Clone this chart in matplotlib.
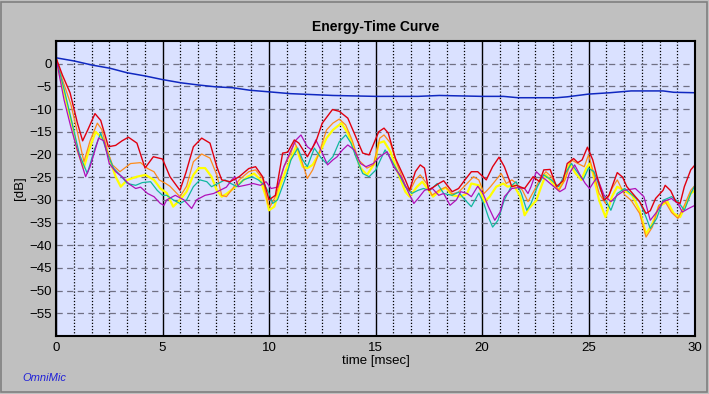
import matplotlib
matplotlib.use("Agg")
import matplotlib.pyplot as plt
from matplotlib.ticker import MultipleLocator, FixedLocator
from matplotlib.patches import Rectangle

plt.rcParams['font.family'] = ['Liberation Sans', 'DejaVu Sans']

title = "Energy-Time Curve"
xlabel = "time [msec]"
ylabel = "[dB]"
brand = "OmniMic"
x_ticks = [0, 5, 10, 15, 20, 25, 30]
y_ticks = [0, -5, -10, -15, -20, -25, -30, -35, -40, -45, -50, -55]

# (time ms, dB) pairs
blue = [(0,1.3),(0.85,0.6),(1.69,-0.3),(2.53,-1.0),(3.34,-2.0),(4.18,-2.7),(5.0,-3.5),
        (5.85,-4.2),(6.7,-4.7),(7.5,-5.1),(8.3,-5.3),(9.1,-5.85),(10.0,-6.2),(11,-6.6),
        (12,-6.8),(13,-7.0),(14,-7.1),(15,-7.2),(17,-7.2),(18,-7.0),(20,-7.2),(21,-7.2),
        (21.7,-7.5),(23.5,-7.5),(24,-7.3),(25,-6.7),(26,-6.4),(27,-6.0),(28.5,-6.0),
        (29,-6.3),(30,-6.4)]

red = [(0,1.3),(0.3,-2.5),(0.66,-6.4),(1.0,-13),(1.25,-17),(1.5,-14.5),(1.83,-11),(2.1,-12.5),
       (2.46,-18.3),(2.8,-18),(3.1,-17),(3.4,-16.2),(3.8,-17.5),(4.18,-23),(4.57,-20.5),(5.0,-21),
       (5.35,-24.9),(5.82,-27.9),(6.1,-24),(6.45,-18.3),(6.84,-16.4),(7.23,-17.5),(7.55,-22.7),
       (7.78,-25.6),(8.17,-26),(8.6,-24.9),(9.05,-23.1),(9.37,-22.7),(9.7,-24.9),(10.0,-30),
       (10.3,-29),(10.64,-19.7),(10.88,-19.5),(11.19,-16.8),(11.4,-17.5),(11.8,-20.5),(12.2,-17.2),
       (12.5,-13.1),(12.98,-10.1),(13.3,-10.5),(13.7,-12),(14.0,-15.3),(14.4,-19.7),(14.7,-20.1),
       (15.15,-15),(15.4,-14.2),(15.6,-15.3),(15.93,-20.8),(16.4,-25.6),(16.6,-27.9),(16.87,-23.8),
       (17.1,-22.3),(17.3,-23),(17.5,-27.9),(17.97,-26.4),(18.2,-25.8),(18.6,-28.2),(18.9,-27.5),
       (19.2,-25.6),(19.5,-23.8),(19.8,-23.8),(20.2,-25.6),(20.5,-22.7),(20.8,-20.6),(21.05,-22.7),
       (21.4,-27.1),(21.6,-26.8),(22.0,-27.5),(22.4,-24.9),(22.7,-26),(22.9,-23.4),(23.2,-23.3),
       (23.5,-27.1),(23.8,-25.8),(24.0,-22),(24.3,-20.9),(24.5,-21.8),(24.7,-21.2),(24.95,-18.4),
       (25.2,-21.2),(25.4,-24.9),(25.73,-30.1),(25.96,-29),(26.35,-24),(26.6,-25),(26.8,-27.1),
       (27.2,-29.3),(27.4,-30.4),(27.7,-33),(27.9,-32.4),(28.15,-29.7),(28.5,-27.9),(28.6,-26.8),
       (28.86,-28),(29.1,-30.4),(29.3,-30.8),(29.5,-27.1),(29.8,-23.4),(30.0,-22.3)]

orange = [(0,1.3),(0.3,-3.5),(0.7,-9),(1.0,-15),(1.31,-21.6),(1.6,-17),(1.94,-13.1),(2.15,-14.5),
          (2.4,-19),(2.65,-22.3),(3.0,-23.8),(3.5,-22),(3.97,-21.8),(4.3,-23.1),(4.6,-23.8),
          (4.84,-25.6),(5.15,-26.4),(5.35,-27),(5.82,-29.3),(6.13,-27),(6.45,-21.6),(6.84,-19.9),
          (7.23,-20.8),(7.55,-24.5),(7.78,-29),(8.0,-29.3),(8.3,-27.5),(8.6,-25.6),(9.05,-23.8),
          (9.37,-23.4),(9.7,-25.3),(9.95,-30.8),(10.05,-31.5),(10.33,-29),(10.7,-22.7),(11.03,-19.7),
          (11.19,-17.2),(11.4,-19.4),(11.8,-25.3),(12.05,-23.4),(12.4,-19),(12.7,-14.6),(13.0,-13.1),
          (13.3,-12.2),(13.6,-13.5),(13.9,-16.8),(14.2,-21.2),(14.6,-23),(14.9,-22.3),(15.05,-19.4),
          (15.2,-16.4),(15.4,-15.7),(15.7,-17.5),(16.0,-22),(16.4,-26.8),(16.6,-28.2),(16.87,-25.6),
          (17.1,-24.5),(17.4,-26.4),(17.65,-29),(17.97,-27.9),(18.3,-27.2),(18.6,-28.7),(18.9,-28.3),
          (19.3,-26.4),(19.6,-24.9),(19.85,-25.6),(20.1,-28.6),(20.4,-27.1),(20.9,-24.2),(21.14,-26.4),
          (21.4,-25.6),(21.6,-26.3),(21.9,-27.9),(22.16,-30.4),(22.5,-27.5),(22.7,-25.6),(23.0,-23.8),
          (23.25,-24.9),(23.6,-27.9),(23.9,-25.6),(24.2,-21.2),(24.5,-22),(24.8,-22.7),(25.0,-20.1),
          (25.2,-23.4),(25.5,-28.6),(25.8,-30.8),(26.1,-27.5),(26.35,-25.6),(26.7,-28.9),(27.0,-30.1),
          (27.4,-33),(27.7,-38.2),(28.0,-36),(28.3,-31.2),(28.6,-30.4),(28.9,-32.8),(29.2,-34.1),
          (29.5,-31.2),(29.8,-27.9),(30.0,-26.8)]

yellow = [(0,1.0),(0.42,-7.2),(0.74,-13),(1.0,-19),(1.3,-23),(1.55,-19),(1.86,-15),(2.25,-16.8),
          (2.5,-20.8),(2.8,-24.9),(3.04,-27.1),(3.35,-25.6),(3.8,-24.9),(4.2,-24.5),(4.6,-25.6),
          (4.9,-27.5),(5.2,-28.5),(5.5,-31.5),(5.82,-30),(6.13,-28.2),(6.45,-24.5),(6.7,-23),
          (7.0,-23),(7.3,-24.9),(7.55,-27.9),(7.78,-29.3),(8.0,-28.7),(8.3,-27.6),(8.6,-26.4),
          (9.0,-24.9),(9.3,-24.2),(9.6,-25.6),(9.9,-30),(10.0,-32.3),(10.25,-31.5),(10.56,-26.4),
          (10.8,-23.4),(11.27,-18.3),(11.58,-22.7),(11.8,-23),(12.05,-22.3),(12.4,-19.4),
          (12.7,-16.4),(13.0,-14.6),(13.4,-13.1),(13.7,-15.3),(14.0,-19),(14.3,-23),(14.6,-24.5),
          (14.95,-22),(15.15,-17.5),(15.4,-17.1),(15.7,-19.4),(16.0,-23.4),(16.4,-28.2),(16.6,-29.3),
          (16.95,-27.1),(17.2,-26),(17.5,-27.9),(17.7,-29.3),(18.05,-27.9),(18.3,-27.3),(18.6,-29),
          (19.0,-29.3),(19.3,-28.6),(19.5,-26.4),(19.85,-26.8),(20.1,-30.5),(20.36,-29.3),
          (20.67,-27.1),(21.0,-26.4),(21.2,-27.1),(21.5,-26.8),(21.8,-29.3),(22.0,-33.4),(22.2,-31.9),
          (22.55,-30.1),(22.8,-26.8),(23.0,-24.5),(23.3,-26.2),(23.6,-27.9),(23.9,-25),(24.1,-22),
          (24.4,-24.2),(24.66,-25.6),(24.9,-23),(25.05,-22),(25.2,-24),(25.5,-30.1),(25.8,-33.8),
          (26.1,-29.3),(26.35,-27.1),(26.7,-28),(27.05,-29),(27.4,-32.3),(27.7,-37.5),(28.0,-35.3),
          (28.3,-31.5),(28.7,-30.4),(29.0,-33),(29.3,-33.8),(29.5,-31.8),(29.8,-28.6),(30.0,-27.9)]

teal = [(0,1.2),(0.4,-6),(0.8,-14),(1.1,-20),(1.47,-24.2),(1.8,-19),(2.1,-15.3),(2.4,-19.7),
        (2.7,-23),(3.0,-24.5),(3.35,-26.4),(3.74,-26.8),(4.05,-26.2),(4.44,-26),(4.75,-27.9),
        (5.0,-29),(5.2,-29),(5.5,-30),(5.82,-30.8),(6.13,-30),(6.45,-27.1),(6.76,-25.6),(7.08,-26),
        (7.3,-27.1),(7.6,-26.4),(7.94,-25.6),(8.17,-26.3),(8.5,-27.1),(8.8,-25.6),(9.2,-24.9),
        (9.5,-25.6),(9.8,-26.8),(10.0,-28.5),(10.17,-30.8),(10.4,-30),(10.8,-24.9),(11.03,-21.2),
        (11.35,-18.6),(11.58,-21.2),(11.8,-22.7),(12.13,-18.6),(12.45,-20.8),(12.7,-22),(13.0,-20.5),
        (13.3,-17.2),(13.6,-15.7),(13.85,-17.5),(14.1,-20.8),(14.4,-24.2),(14.7,-24.9),(15.0,-23.5),
        (15.15,-22),(15.45,-19),(15.7,-20.8),(16.0,-23.4),(16.4,-27.1),(16.7,-28.6),(17.0,-27.9),
        (17.25,-27.5),(17.55,-27.9),(17.9,-26.4),(18.2,-28.6),(18.6,-29),(18.9,-28.3),(19.2,-30),
        (19.5,-31.5),(19.85,-28.5),(20.1,-31),(20.3,-33.8),(20.5,-36),(20.75,-34.5),(21.05,-30),
        (21.4,-26.8),(21.6,-26),(21.85,-28.6),(22.1,-32.3),(22.3,-30.8),(22.6,-27.1),(22.9,-24.5),
        (23.25,-25.6),(23.6,-27.1),(23.9,-24.2),(24.2,-22),(24.4,-23.4),(24.75,-25.6),(25.0,-23),
        (25.26,-23.8),(25.57,-27.9),(26.05,-32.3),(26.35,-28.6),(26.7,-27.5),(27.05,-28.9),
        (27.4,-30.4),(27.7,-33.8),(27.9,-36.3),(28.2,-34.1),(28.5,-30.1),(28.9,-29.3),(29.2,-30.4),
        (29.5,-32.3),(29.8,-28.6),(30.0,-26.8)]

magenta = [(0,1.2),(0.38,-8),(0.7,-14),(1.0,-19),(1.39,-24.9),(1.6,-22.7),(2.0,-16.4),(2.25,-17),
           (2.5,-22),(2.8,-23.8),(3.1,-24.9),(3.4,-26.4),(3.74,-27.5),(3.97,-27.2),(4.3,-28.6),
           (4.6,-29.3),(4.9,-30.8),(5.07,-31.2),(5.2,-30),(5.6,-29),(6.0,-30),(6.37,-31.9),(6.6,-30),
           (7.0,-29),(7.4,-28.6),(7.7,-27.9),(8.0,-27.2),(8.25,-25.6),(8.4,-24.9),(8.56,-27.1),
           (8.87,-26.8),(9.25,-26.4),(9.6,-26.8),(9.86,-26),(10.1,-27.5),(10.4,-27.2),(10.7,-22.7),
           (11.0,-19.4),(11.27,-16.8),(11.5,-15.7),(11.8,-18.3),(12.0,-19),(12.2,-16.8),(12.5,-19.7),
           (12.75,-22.3),(13.0,-21.2),(13.2,-20.5),(13.45,-19),(13.7,-17.9),(14.0,-19),(14.3,-22),
           (14.55,-22.7),(14.9,-22),(15.2,-20.5),(15.55,-19.4),(15.85,-22.7),(16.2,-24.9),(16.5,-27.9),
           (16.8,-30.8),(17.0,-29.7),(17.3,-27.9),(17.65,-27.4),(17.97,-29),(18.2,-28.6),(18.5,-31.2),
           (18.8,-30),(19.0,-28.2),(19.3,-28.6),(19.5,-29.3),(19.8,-27),(20.05,-28.6),(20.3,-31.5),
           (20.6,-34.5),(20.85,-32.7),(21.05,-29.3),(21.4,-27.5),(21.7,-27.3),(22.0,-27.5),
           (22.16,-28.6),(22.3,-27.1),(22.55,-23.8),(22.8,-24.9),(23.0,-25.6),(23.3,-26.8),
           (23.65,-28.2),(23.9,-27.5),(24.1,-24.2),(24.35,-22.3),(24.6,-24.5),(24.85,-26.4),
           (25.05,-27.5),(25.4,-25),(25.73,-29),(26.05,-30.4),(26.35,-29),(26.7,-27.9),(27.2,-27.5),
           (27.6,-29.3),(27.9,-34.5),(28.2,-32.7),(28.5,-30.4),(28.9,-29.7),(29.2,-30.8),(29.4,-32.7),
           (29.7,-31.9),(30.0,-31.2)]

series = [
    (yellow, "#FFFF00", 1.6),
    (orange, "#FF8C1A", 0.9),
    (teal, "#10B8A0", 0.9),
    (magenta, "#B010B8", 0.9),
    (red, "#E00010", 1.0),
    (blue, "#1028C0", 1.1),
]

fig = plt.figure(figsize=(7.09, 3.94), dpi=100)
fig.patch.set_facecolor("#C0C0C0")
fig.patches.append(Rectangle((0.002, 0.004), 0.995, 0.992, transform=fig.transFigure,
                             fill=False, edgecolor="#808080", linewidth=1.2))

ax = fig.add_axes([56/709, (394-336)/394, (695-56)/709, (336-41)/394])
ax.set_facecolor("#DAE1FF")
ax.set_xlim(0, 30)
ax.set_ylim(-60, 5)

ax.xaxis.set_major_locator(FixedLocator(x_ticks))
ax.xaxis.set_minor_locator(MultipleLocator(5/6))
ax.yaxis.set_major_locator(FixedLocator(y_ticks))
ax.grid(which="major", axis="x", color="black", linestyle="-", linewidth=1.0)
ax.grid(which="minor", axis="x", color="black", linestyle=(0, (1, 1.5)), linewidth=0.9)
ax.grid(which="major", axis="y", color="#707084", linestyle=(0, (5, 3.5)), linewidth=0.9)
ax.set_axisbelow(True)
ax.tick_params(which="both", length=0, labelsize=9.5, pad=3)
ax.tick_params(axis="x", pad=4)
for s in ax.spines.values():
    s.set_linewidth(1.5)
    s.set_color("black")

for data, color, lw in series:
    ts = [p[0] for p in data]
    vs = [p[1] for p in data]
    ax.plot(ts, vs, color=color, linewidth=lw, solid_joinstyle="round")

ax.set_title(title, fontsize=10, fontweight="bold", pad=7)
ax.set_xlabel(xlabel, fontsize=9.5, labelpad=1)
ax.set_ylabel(ylabel, fontsize=9.5, labelpad=2)
fig.text(22/709, 1 - 378/394, brand, color="#2020D8", fontsize=8, style="italic",
         va="center", ha="left")

fig.savefig("out.png", dpi=100, facecolor=fig.get_facecolor())
